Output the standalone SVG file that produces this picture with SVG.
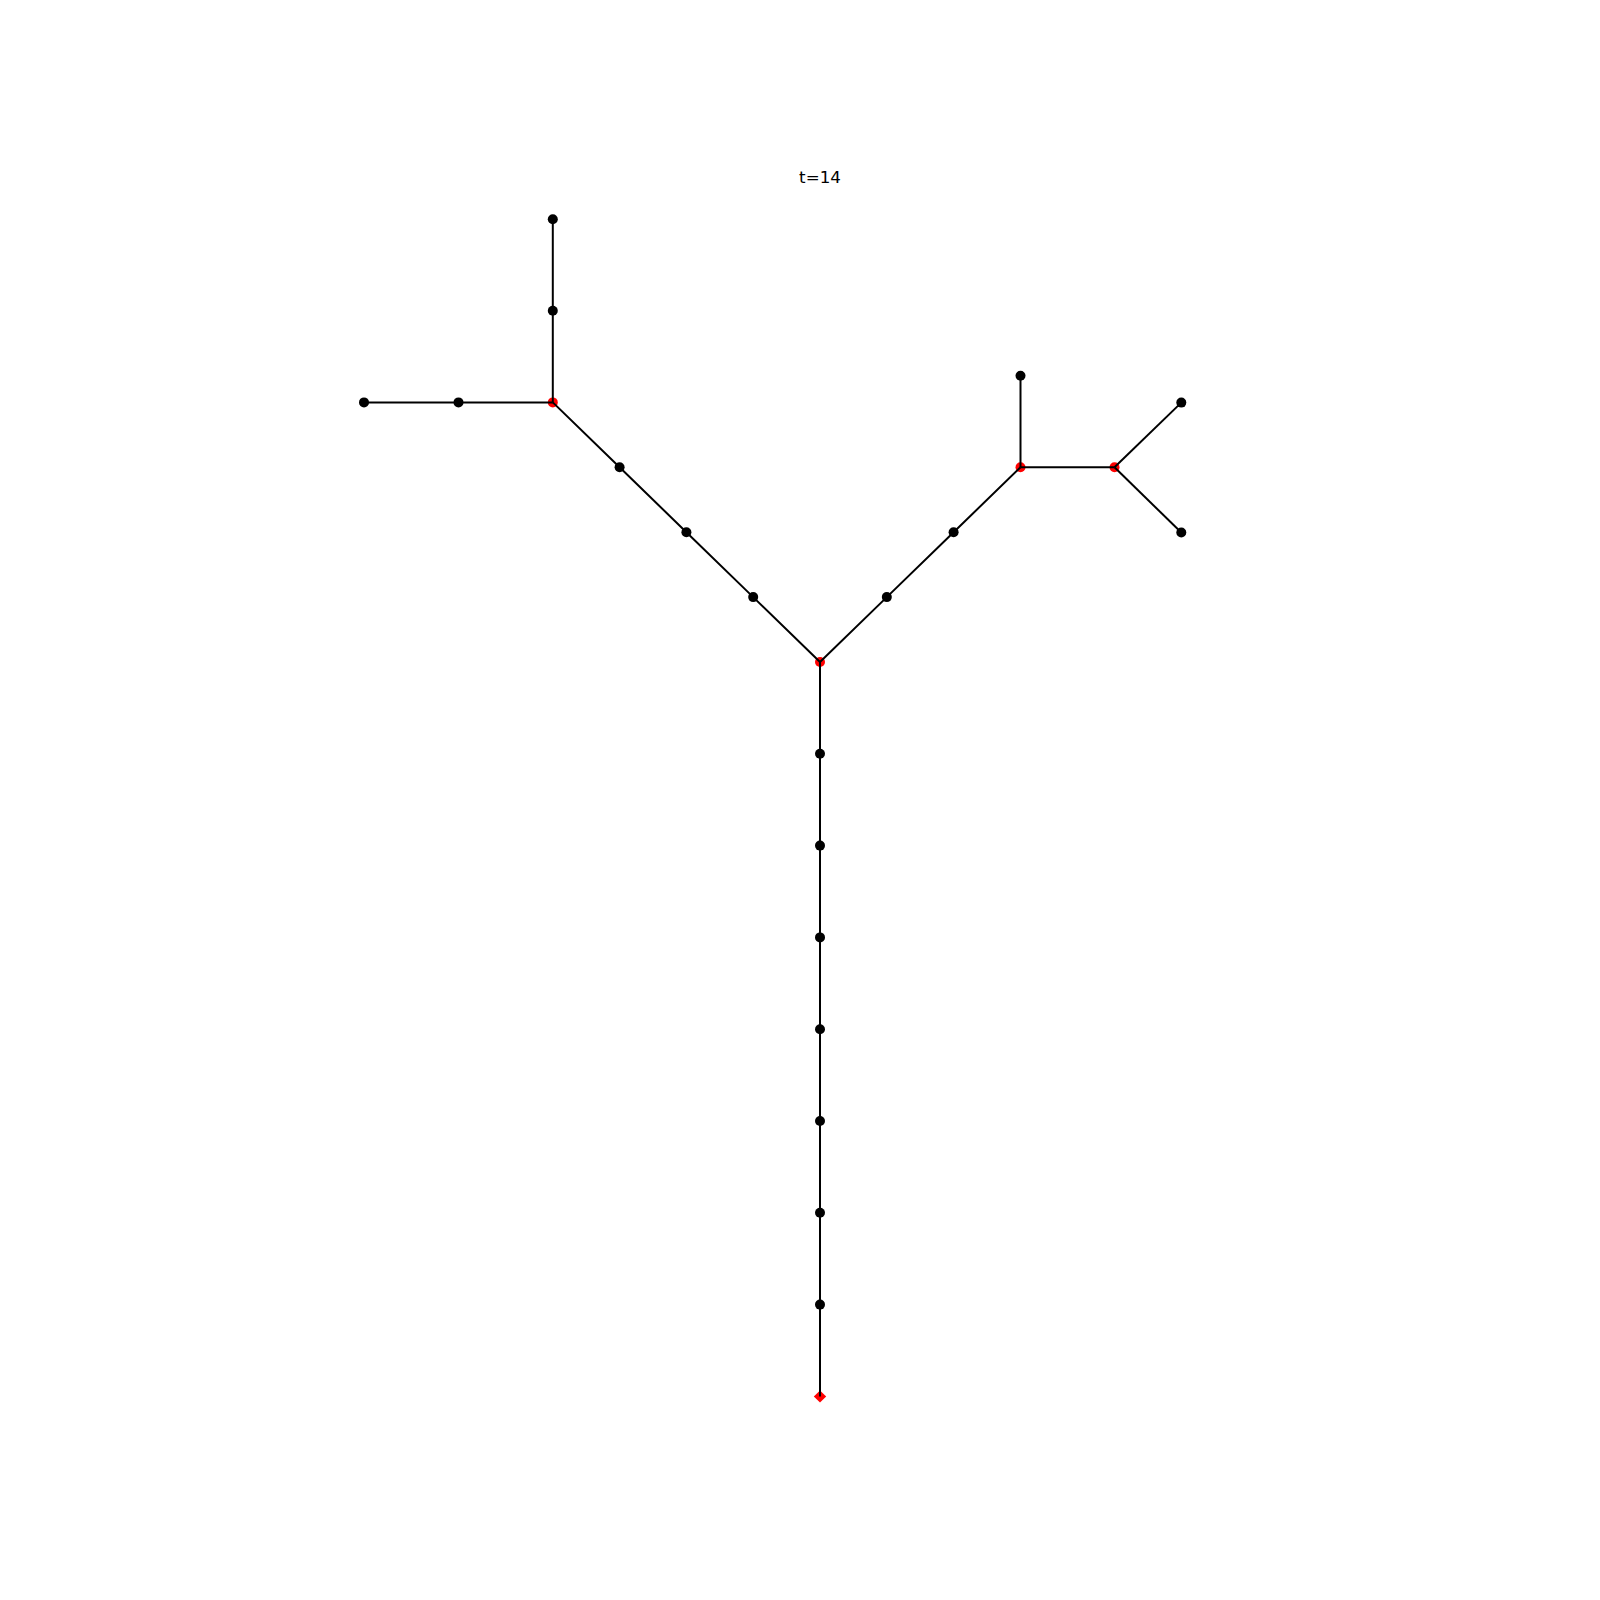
<svg xmlns="http://www.w3.org/2000/svg" width="1600" height="1600" viewBox="0 0 1600 1600">
<style>
.e{stroke:#000;stroke-width:2;fill:none}
.n{fill:#000}
.r{fill:#f00}
.t{font-family:"DejaVu Sans",sans-serif;font-size:16.7px;fill:#000}
</style>
<rect width="1600" height="1600" fill="#fff"/>
<text class="t" x="820" y="183.3" text-anchor="middle">t=14</text>
<g id="nodes">
<g id="n0"><circle class="r" cx="820" cy="662" r="5"/></g>
<g id="n1"><circle class="n" cx="820" cy="753.8" r="5"/></g>
<g id="n2"><circle class="n" cx="820" cy="845.6" r="5"/></g>
<g id="n3"><circle class="n" cx="820" cy="937.4" r="5"/></g>
<g id="n4"><circle class="n" cx="820" cy="1029.2" r="5"/></g>
<g id="n5"><circle class="n" cx="820" cy="1121" r="5"/></g>
<g id="n6"><circle class="n" cx="820" cy="1212.8" r="5"/></g>
<g id="n7"><circle class="n" cx="820" cy="1304.6" r="5"/></g>
<g id="root"><polygon class="r" points="820,1390.6 826.2,1396.6 820,1402.6 813.8,1396.6"/></g>
<g id="l1"><circle class="n" cx="753.2" cy="597.1" r="5"/></g>
<g id="l2"><circle class="n" cx="686.4" cy="532.2" r="5"/></g>
<g id="l3"><circle class="n" cx="619.6" cy="467.3" r="5"/></g>
<g id="l4"><circle class="r" cx="552.8" cy="402.4" r="5"/></g>
<g id="l5"><circle class="n" cx="552.8" cy="310.7" r="5"/></g>
<g id="l6"><circle class="n" cx="552.8" cy="219.2" r="5"/></g>
<g id="l7"><circle class="n" cx="458.5" cy="402.4" r="5"/></g>
<g id="l8"><circle class="n" cx="364" cy="402.4" r="5"/></g>
<g id="r1"><circle class="n" cx="886.8" cy="597.1" r="5"/></g>
<g id="r2"><circle class="n" cx="953.6" cy="532.2" r="5"/></g>
<g id="r3"><circle class="r" cx="1020.5" cy="467.3" r="5"/></g>
<g id="r4"><circle class="n" cx="1020.5" cy="375.7" r="5"/></g>
<g id="r5"><circle class="r" cx="1114.5" cy="467.3" r="5"/></g>
<g id="r6"><circle class="n" cx="1181.3" cy="402.6" r="5"/></g>
<g id="r7"><circle class="n" cx="1181.3" cy="532.5" r="5"/></g>
</g>
<g id="connectors">
<line class="e" x1="820" y1="662" x2="820" y2="1396.6"/>
<polyline class="e" points="820,662 753.2,597.1 686.4,532.2 619.6,467.3 552.8,402.4"/>
<line class="e" x1="552.8" y1="402.4" x2="552.8" y2="219.2"/>
<line class="e" x1="552.8" y1="402.4" x2="364" y2="402.4"/>
<polyline class="e" points="820,662 886.8,597.1 953.6,532.2 1020.5,467.3"/>
<line class="e" x1="1020.5" y1="467.3" x2="1020.5" y2="375.7"/>
<line class="e" x1="1020.5" y1="467.3" x2="1114.5" y2="467.3"/>
<line class="e" x1="1114.5" y1="467.3" x2="1181.3" y2="402.6"/>
<line class="e" x1="1114.5" y1="467.3" x2="1181.3" y2="532.5"/>
</g>
</svg>
